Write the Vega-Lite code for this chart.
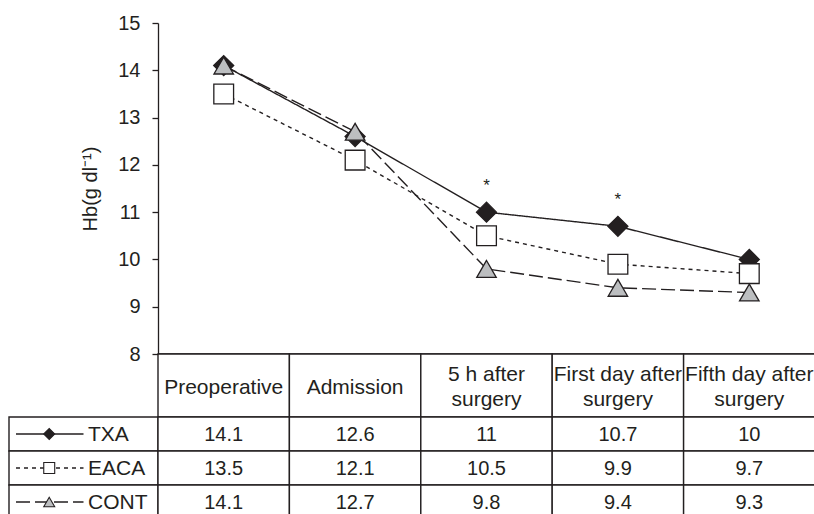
{
  "$schema": "https://vega.github.io/schema/vega-lite/v6.json",
  "padding": {"left": 8, "top": 13, "right": 0, "bottom": 0},
  "background": "white",
  "columns": 2,
  "spacing": 0,
  "bounds": "flush",
  "config": {
    "view": {"stroke": null},
    "font": "Liberation Sans",
    "text": {"color": "#231f20"}
  },
  "datasets": {
    "hb": [
      {"group": "TXA", "timepoint": "Preoperative", "value": 14.1},
      {"group": "TXA", "timepoint": "Admission", "value": 12.6},
      {"group": "TXA", "timepoint": "5 h after\nsurgery", "value": 11},
      {"group": "TXA", "timepoint": "First day after\nsurgery", "value": 10.7},
      {"group": "TXA", "timepoint": "Fifth day after\nsurgery", "value": 10},
      {"group": "EACA", "timepoint": "Preoperative", "value": 13.5},
      {"group": "EACA", "timepoint": "Admission", "value": 12.1},
      {"group": "EACA", "timepoint": "5 h after\nsurgery", "value": 10.5},
      {"group": "EACA", "timepoint": "First day after\nsurgery", "value": 9.9},
      {"group": "EACA", "timepoint": "Fifth day after\nsurgery", "value": 9.7},
      {"group": "CONT", "timepoint": "Preoperative", "value": 14.1},
      {"group": "CONT", "timepoint": "Admission", "value": 12.7},
      {"group": "CONT", "timepoint": "5 h after\nsurgery", "value": 9.8},
      {"group": "CONT", "timepoint": "First day after\nsurgery", "value": 9.4},
      {"group": "CONT", "timepoint": "Fifth day after\nsurgery", "value": 9.3}
    ],
    "sig": [
      {"timepoint": "5 h after\nsurgery", "value": 11, "label": "*"},
      {"timepoint": "First day after\nsurgery", "value": 10.7, "label": "*"}
    ]
  },
  "data": {"name": "hb"},
  "concat": [
    {
      "width": 149,
      "height": 331,
      "transform": [{"filter": "datum.group === 'TXA' && datum.timepoint === 'Preoperative'"}],
      "mark": {"type": "text", "text": ""},
      "encoding": {}
    },
    {
      "width": 657,
      "height": 331,
      "encoding": {
        "x": {
          "field": "timepoint", "type": "nominal",
          "scale": {"domain": ["Preoperative", "Admission", "5 h after\nsurgery", "First day after\nsurgery", "Fifth day after\nsurgery"], "paddingInner": 0, "paddingOuter": 0},
          "axis": {"labels": false, "ticks": false, "title": null, "domain": true, "domainWidth": 2.5, "domainColor": "#231f20"}
        },
        "y": {
          "field": "value", "type": "quantitative",
          "scale": {"domain": [8, 15], "nice": false, "zero": false},
          "axis": {
            "values": [8, 9, 10, 11, 12, 13, 14, 15],
            "grid": false,
            "tickSize": 6, "tickWidth": 1.3, "tickColor": "#231f20",
            "domainWidth": 1.3, "domainColor": "#231f20",
            "labelFontSize": 20, "labelColor": "#231f20", "labelPadding": 12,
            "title": "Hb(g dl\u207b\u00b9)", "titleFontSize": 20, "titleFontWeight": "normal", "titleColor": "#231f20", "titlePadding": 17
          }
        }
      },
      "layer": [
        {
          "mark": {"type": "line", "color": "#231f20", "strokeWidth": 1.4},
          "encoding": {
            "detail": {"field": "group"},
            "order": {"value": null},
            "strokeDash": {
              "field": "group", "type": "nominal",
              "scale": {"domain": ["TXA", "EACA", "CONT"], "range": [[1, 0], [4, 4], [14, 5]]},
              "legend": null
            }
          }
        },
        {
          "mark": {"type": "point", "filled": true, "opacity": 1, "stroke": "#231f20", "strokeWidth": 1.3},
          "encoding": {
            "shape": {
              "field": "group", "type": "nominal",
              "scale": {"domain": ["TXA", "EACA", "CONT"], "range": ["diamond", "square", "triangle-up"]},
              "legend": null
            },
            "fill": {
              "field": "group", "type": "nominal",
              "scale": {"domain": ["TXA", "EACA", "CONT"], "range": ["#231f20", "#ffffff", "#bcbec0"]},
              "legend": null
            },
            "size": {
              "field": "group", "type": "nominal",
              "scale": {"domain": ["TXA", "EACA", "CONT"], "range": [400, 380, 440]},
              "legend": null
            }
          }
        },
        {
          "data": {"name": "sig"},
          "mark": {"type": "text", "fontSize": 17, "dy": -26},
          "encoding": {"text": {"field": "label"}}
        }
      ]
    },
    {
      "width": 149,
      "height": 63,
      "transform": [{"filter": "datum.group === 'TXA' && datum.timepoint === 'Preoperative'"}],
      "mark": {"type": "text", "text": ""},
      "encoding": {}
    },
    {
      "width": 657,
      "height": 63,
      "transform": [{"filter": "datum.group === 'TXA'"}],
      "encoding": {
        "x": {
          "field": "timepoint", "type": "nominal",
          "scale": {"domain": ["Preoperative", "Admission", "5 h after\nsurgery", "First day after\nsurgery", "Fifth day after\nsurgery"], "paddingInner": 0, "paddingOuter": 0},
          "axis": null
        }
      },
      "layer": [
        {"mark": {"type": "rect", "fill": "white", "stroke": "#231f20", "strokeWidth": 1.4}},
        {
          "transform": [{"filter": "indexof(datum.timepoint, 'surgery') < 0"}],
          "mark": {"type": "text", "fontSize": 21, "baseline": "middle", "dy": 2},
          "encoding": {"text": {"field": "timepoint"}}
        },
        {
          "transform": [{"filter": "indexof(datum.timepoint, 'surgery') >= 0"}],
          "mark": {"type": "text", "fontSize": 21, "lineBreak": "\n", "lineHeight": 25, "baseline": "middle", "dy": -11},
          "encoding": {"text": {"field": "timepoint"}}
        }
      ]
    },
    {
      "width": 149,
      "height": 102,
      "transform": [{"filter": "datum.timepoint === 'Preoperative'"}],
      "encoding": {
        "y": {
          "field": "group", "type": "nominal",
          "scale": {"domain": ["TXA", "EACA", "CONT"], "paddingInner": 0, "paddingOuter": 0},
          "axis": null
        }
      },
      "layer": [
        {
          "mark": {"type": "rect", "fill": "white", "stroke": "#231f20", "strokeWidth": 1.4},
          "encoding": {
            "x": {"datum": 0, "type": "quantitative", "scale": {"domain": [0, 1]}, "axis": null},
            "x2": {"datum": 1}
          }
        },
        {
          "mark": {"type": "rule", "color": "#231f20", "strokeWidth": 1.3},
          "encoding": {
            "x": {"datum": 0.047, "type": "quantitative", "scale": {"domain": [0, 1]}, "axis": null},
            "x2": {"datum": 0.5},
            "strokeDash": {
              "field": "group", "type": "nominal",
              "scale": {"domain": ["TXA", "EACA", "CONT"], "range": [[1, 0], [4, 5], [14, 5]]},
              "legend": null
            }
          }
        },
        {
          "mark": {"type": "point", "filled": true, "opacity": 1, "stroke": "#231f20", "strokeWidth": 1.1},
          "encoding": {
            "x": {"datum": 0.27, "type": "quantitative", "scale": {"domain": [0, 1]}, "axis": null},
            "shape": {
              "field": "group", "type": "nominal",
              "scale": {"domain": ["TXA", "EACA", "CONT"], "range": ["diamond", "square", "triangle-up"]},
              "legend": null
            },
            "fill": {
              "field": "group", "type": "nominal",
              "scale": {"domain": ["TXA", "EACA", "CONT"], "range": ["#231f20", "#ffffff", "#bcbec0"]},
              "legend": null
            },
            "size": {"value": 120}
          }
        },
        {
          "mark": {"type": "text", "fontSize": 21, "align": "left", "baseline": "middle", "dy": 1},
          "encoding": {
            "x": {"datum": 0.53, "type": "quantitative", "scale": {"domain": [0, 1]}, "axis": null},
            "text": {"field": "group"}
          }
        }
      ]
    },
    {
      "width": 657,
      "height": 102,
      "encoding": {
        "x": {
          "field": "timepoint", "type": "nominal",
          "scale": {"domain": ["Preoperative", "Admission", "5 h after\nsurgery", "First day after\nsurgery", "Fifth day after\nsurgery"], "paddingInner": 0, "paddingOuter": 0},
          "axis": null
        },
        "y": {
          "field": "group", "type": "nominal",
          "scale": {"domain": ["TXA", "EACA", "CONT"], "paddingInner": 0, "paddingOuter": 0},
          "axis": null
        }
      },
      "layer": [
        {"mark": {"type": "rect", "fill": "white", "stroke": "#231f20", "strokeWidth": 1.4}},
        {
          "mark": {"type": "text", "fontSize": 20, "baseline": "middle", "dy": 1},
          "encoding": {"text": {"field": "value", "type": "quantitative"}}
        }
      ]
    }
  ]
}
